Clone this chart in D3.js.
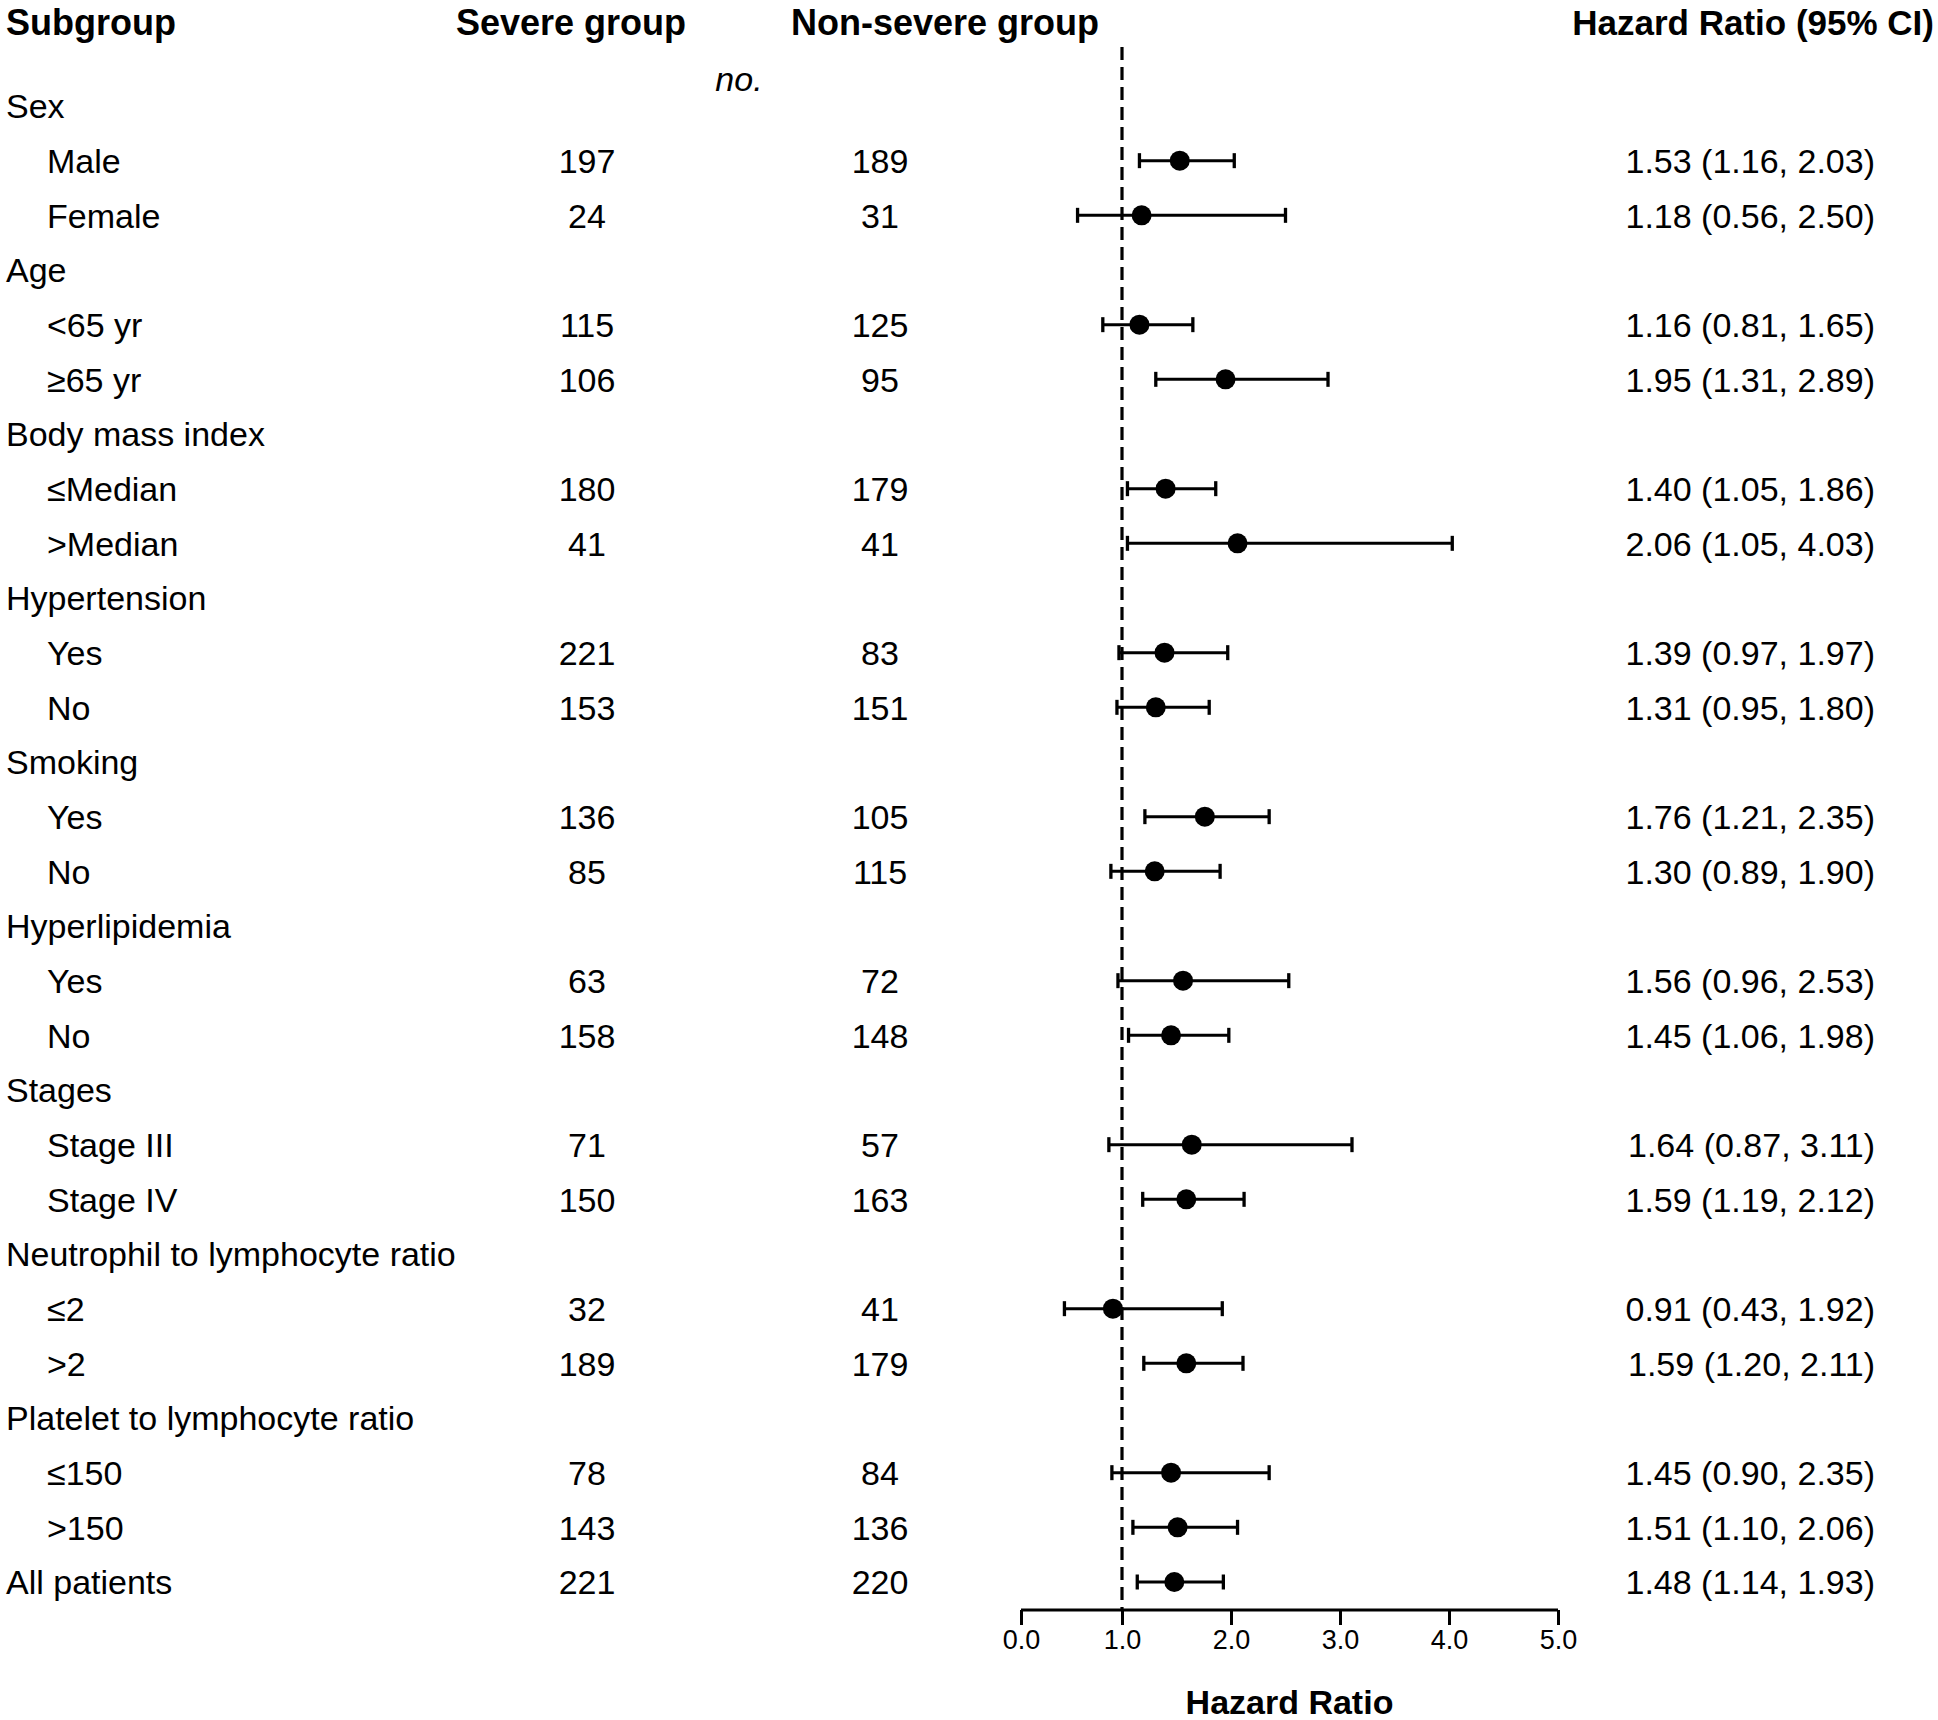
<!DOCTYPE html>
<html>
<head>
<meta charset="utf-8">
<script src="https://cdn.jsdelivr.net/npm/d3@7"></script>
<style>
  body { margin: 0; background: #fff; }
  text { font-family: "Liberation Sans", Arial, sans-serif; fill: #000; }
</style>
</head>
<body>
<script>
// --- Data ---
var rowLabels = ["Sex", "Male", "Female", "Age", "<65 yr", "\u226565 yr",
  "Body mass index", "\u2264Median", ">Median", "Hypertension", "Yes", "No",
  "Smoking", "Yes", "No", "Hyperlipidemia", "Yes", "No", "Stages", "Stage III", "Stage IV",
  "Neutrophil to lymphocyte ratio", "\u22642", ">2",
  "Platelet to lymphocyte ratio", "\u2264150", ">150", "All patients"];
var rowLevel = [0, 1, 1, 0, 1, 1, 0, 1, 1, 0, 1, 1, 0, 1, 1, 0, 1, 1, 0, 1, 1, 0, 1, 1, 0, 1, 1, 0];
var severeN = [null, 197, 24, null, 115, 106, null, 180, 41, null, 221, 153, null, 136, 85,
  null, 63, 158, null, 71, 150, null, 32, 189, null, 78, 143, 221];
var nonSevereN = [null, 189, 31, null, 125, 95, null, 179, 41, null, 83, 151, null, 105, 115,
  null, 72, 148, null, 57, 163, null, 41, 179, null, 84, 136, 220];
var hr = [null, 1.53, 1.18, null, 1.16, 1.95, null, 1.40, 2.06, null, 1.39, 1.31, null, 1.76, 1.30,
  null, 1.56, 1.45, null, 1.64, 1.59, null, 0.91, 1.59, null, 1.45, 1.51, 1.48];
var lo = [null, 1.16, 0.56, null, 0.81, 1.31, null, 1.05, 1.05, null, 0.97, 0.95, null, 1.21, 0.89,
  null, 0.96, 1.06, null, 0.87, 1.19, null, 0.43, 1.20, null, 0.90, 1.10, 1.14];
var hi = [null, 2.03, 2.50, null, 1.65, 2.89, null, 1.86, 4.03, null, 1.97, 1.80, null, 2.35, 1.90,
  null, 2.53, 1.98, null, 3.11, 2.12, null, 1.92, 2.11, null, 2.35, 2.06, 1.93];
var xTicks = [0, 1, 2, 3, 4, 5];

var w = 1938, h = 1720;
var rows = rowLabels.map(function(d, i) {
  return { label: d, level: rowLevel[i], sev: severeN[i], non: nonSevereN[i],
           hr: hr[i], lo: lo[i], hi: hi[i], i: i };
});
var points = rows.filter(function(d) { return d.hr !== null; });

var svg = d3.select("body").append("svg")
  .attr("width", w)
  .attr("height", h);

// --- Scales ---
var y = d3.scaleLinear().domain([0, rows.length - 1]).range([106, 1582]);
// first interval (0-1) is drawn shorter than the others in the original
var x = d3.scaleLinear().domain([0, 1, 5]).range([1021, 1122, 1558]);

// --- Column headers ---
var head = svg.append("g").style("font-weight", "bold").style("font-size", "36px");
head.append("text").attr("x", 6).attr("y", 22).attr("dy", "0.36em").text("Subgroup");
head.append("text").attr("x", 571).attr("y", 22).attr("dy", "0.36em")
  .attr("text-anchor", "middle").text("Severe group");
head.append("text").attr("x", 945).attr("y", 22).attr("dy", "0.36em")
  .attr("text-anchor", "middle").text("Non-severe group");
head.append("text").attr("x", 1934).attr("y", 22).attr("dy", "0.36em")
  .attr("text-anchor", "end").style("font-size", "35px").text("Hazard Ratio (95% CI)");

svg.append("text").attr("x", 739).attr("y", 79).attr("dy", "0.36em")
  .attr("text-anchor", "middle").style("font-style", "italic").style("font-size", "34px")
  .text("no.");

// --- Table text ---
var body = svg.append("g").style("font-size", "34px");
body.selectAll(".lab").data(rows).enter().append("text")
  .attr("class", "lab")
  .attr("x", function(d) { return d.level ? 47 : 6; })
  .attr("y", function(d) { return y(d.i); })
  .attr("dy", "0.36em")
  .text(function(d) { return d.label; });

body.selectAll(".sev").data(rows.filter(function(d) { return d.sev !== null; })).enter().append("text")
  .attr("class", "sev")
  .attr("x", 587)
  .attr("y", function(d) { return y(d.i); })
  .attr("dy", "0.36em")
  .attr("text-anchor", "middle")
  .text(function(d) { return d.sev; });

body.selectAll(".non").data(rows.filter(function(d) { return d.non !== null; })).enter().append("text")
  .attr("class", "non")
  .attr("x", 880)
  .attr("y", function(d) { return y(d.i); })
  .attr("dy", "0.36em")
  .attr("text-anchor", "middle")
  .text(function(d) { return d.non; });

var f = d3.format(".2f");
body.selectAll(".ci").data(points).enter().append("text")
  .attr("class", "ci")
  .attr("x", 1875)
  .attr("y", function(d) { return y(d.i); })
  .attr("dy", "0.36em")
  .attr("text-anchor", "end")
  .text(function(d) { return f(d.hr) + " (" + f(d.lo) + ", " + f(d.hi) + ")"; });

// --- Reference line ---
var axisY = 1610;
svg.append("line")
  .attr("x1", x(1)).attr("x2", x(1))
  .attr("y1", 47).attr("y2", axisY)
  .attr("stroke", "#000").attr("stroke-width", 3.2)
  .attr("stroke-dasharray", "13,7");

// --- Whiskers and points ---
var cap = 7.5;
var g = svg.append("g").attr("stroke", "#000").attr("stroke-width", 3);
g.selectAll(".ci-line").data(points).enter().append("line")
  .attr("x1", function(d) { return x(d.lo); })
  .attr("x2", function(d) { return x(d.hi); })
  .attr("y1", function(d) { return y(d.i); })
  .attr("y2", function(d) { return y(d.i); });
g.selectAll(".cap-lo").data(points).enter().append("line")
  .attr("stroke-width", 3.3)
  .attr("x1", function(d) { return x(d.lo); })
  .attr("x2", function(d) { return x(d.lo); })
  .attr("y1", function(d) { return y(d.i) - cap; })
  .attr("y2", function(d) { return y(d.i) + cap; });
g.selectAll(".cap-hi").data(points).enter().append("line")
  .attr("stroke-width", 3.3)
  .attr("x1", function(d) { return x(d.hi); })
  .attr("x2", function(d) { return x(d.hi); })
  .attr("y1", function(d) { return y(d.i) - cap; })
  .attr("y2", function(d) { return y(d.i) + cap; });
svg.selectAll(".pt").data(points).enter().append("circle")
  .attr("cx", function(d) { return x(d.hr); })
  .attr("cy", function(d) { return y(d.i); })
  .attr("r", 10)
  .attr("fill", "#000");

// --- Axis ---
var xAxis = d3.axisBottom(x)
  .tickValues(xTicks)
  .tickFormat(d3.format(".1f"))
  .tickSize(15)
  .tickPadding(5)
  .tickSizeOuter(0);
var ax = svg.append("g")
  .attr("transform", "translate(0," + axisY + ")")
  .call(xAxis);
ax.select(".domain").attr("stroke-width", 3).attr("d", "M" + x(0) + ",0H" + x(5));
ax.selectAll(".tick line").attr("stroke-width", 3);
ax.selectAll(".tick text")
  .style("font-family", "'Liberation Sans', Arial, sans-serif")
  .style("font-size", "27px");

svg.append("text")
  .attr("x", (x(0) + x(5)) / 2)
  .attr("y", 1702)
  .attr("dy", "0.36em")
  .attr("text-anchor", "middle")
  .style("font-weight", "bold")
  .style("font-size", "34px")
  .text("Hazard Ratio");
</script>
</body>
</html>
